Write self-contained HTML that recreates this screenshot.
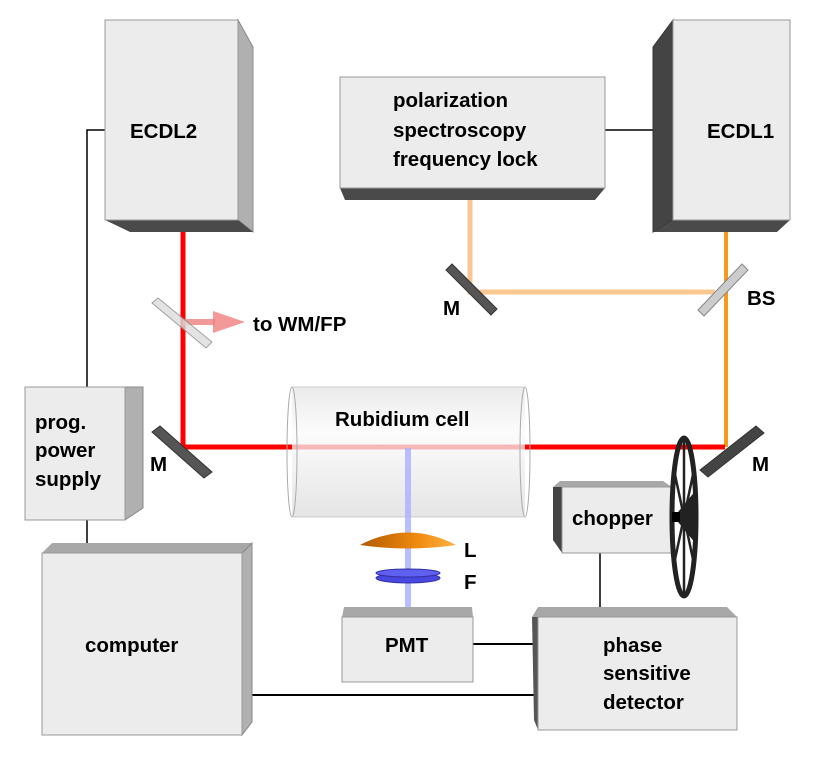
<!DOCTYPE html>
<html><head><meta charset="utf-8"><style>
body{margin:0;background:#fff}
text{font-family:"Liberation Sans",Arial,sans-serif;font-weight:bold;font-size:20.5px;fill:#000}
</style></head><body>
<svg width="830" height="760" viewBox="0 0 830 760" xmlns="http://www.w3.org/2000/svg">
<defs>
<linearGradient id="cell" x1="0" y1="0" x2="0" y2="1">
<stop offset="0" stop-color="#e4e4e4"/><stop offset="0.35" stop-color="#fbfbfb"/><stop offset="1" stop-color="#dcdcdc"/></linearGradient>
<linearGradient id="lens" x1="0" y1="0" x2="1" y2="0">
<stop offset="0" stop-color="#b05a00"/><stop offset="0.6" stop-color="#f08a10"/><stop offset="1" stop-color="#ffb040"/></linearGradient>
</defs>
<g stroke="#000" stroke-width="1.5" fill="none">
<polyline points="105,130 87,130 87,387"/>
<line x1="87" y1="520" x2="87" y2="553"/>
<line x1="605" y1="130" x2="662" y2="130"/>
<line x1="600" y1="553" x2="600" y2="610"/>
<line x1="473" y1="644" x2="535" y2="644" stroke-width="2"/>
<line x1="248" y1="695" x2="535" y2="695" stroke-width="2"/>
</g>
<!-- ECDL2 -->
<polygon points="238,20 253,47 253,232 238,220" fill="#b0b0b0" stroke="#888"/>
<polygon points="105,220 238,220 253,232 130,232" fill="#4a4a4a"/>
<rect x="105" y="20" width="133" height="200" fill="#ececec" stroke="#999"/>
<text x="130" y="138">ECDL2</text>
<!-- ECDL1 -->
<polygon points="673,20 653,47 653,232 673,220" fill="#444" stroke="#333"/>
<polygon points="673,220 790,220 777,232 653,232" fill="#4a4a4a"/>
<rect x="673" y="20" width="117" height="200" fill="#ececec" stroke="#999"/>
<text x="707" y="138">ECDL1</text>
<!-- pol box -->
<polygon points="340,188 605,188 595,200 345,200" fill="#4a4a4a"/>
<rect x="340" y="77" width="265" height="111" fill="#ececec" stroke="#999"/>
<text x="393" y="107">polarization</text>
<text x="393" y="137">spectroscopy</text>
<text x="393" y="166">frequency lock</text>
<!-- light orange beam -->
<polyline points="470,200 470,292 715,292" fill="none" stroke="#f8c890" stroke-width="5"/>
<!-- orange beam -->
<line x1="726" y1="232" x2="726" y2="447" stroke="#f59a1a" stroke-width="4"/>
<!-- red beam -->
<polyline points="183,232 183,447 725,447" fill="none" stroke="#f00" stroke-width="5"/>
<!-- to WM/FP arrow -->
<line x1="183" y1="322" x2="215" y2="322" stroke="#f08080" stroke-width="6" opacity="0.8"/>
<polygon points="213,311 245,322 213,333" fill="#f08080" opacity="0.8"/>
<text x="253" y="331">to WM/FP</text>
<!-- BS near ECDL2 -->
<polygon points="152,303 158,298 212,342 206,348" fill="#ddd" stroke="#888" opacity="0.8"/>
<!-- M top -->
<polygon points="446,270 452,264 497,309 491,315" fill="#555" stroke="#333"/>
<text x="443" y="315">M</text>
<!-- BS right -->
<polygon points="698,310 704,316 748,270 742,264" fill="#ccc" stroke="#888"/>
<text x="747" y="305">BS</text>
<!-- M left -->
<polygon points="152,432 160,426 212,472 204,478" fill="#555" stroke="#333"/>
<text x="150" y="471">M</text>
<!-- M right -->
<polygon points="700,470 708,477 764,433 756,426" fill="#444" stroke="#333"/>
<text x="752" y="471">M</text>
<!-- cell -->
<rect x="292" y="387" width="233" height="130" fill="url(#cell)" opacity="0.75"/>
<ellipse cx="292" cy="452" rx="5" ry="65" fill="none" stroke="#aaa"/>
<ellipse cx="525" cy="452" rx="5" ry="65" fill="none" stroke="#aaa"/>
<line x1="292" y1="387" x2="525" y2="387" stroke="#ccc"/>
<line x1="292" y1="517" x2="525" y2="517" stroke="#ccc"/>
<text x="335" y="426">Rubidium cell</text>
<!-- blue beam -->
<line x1="408" y1="448" x2="408" y2="612" stroke="#aab0ff" stroke-width="6" opacity="0.8"/>
<path d="M360,545 Q408,520 456,545 Q408,552 360,545 Z" fill="url(#lens)"/>
<text x="464" y="557">L</text>
<ellipse cx="408" cy="578" rx="32" ry="5" fill="#4848e0" stroke="#3030a0"/>
<ellipse cx="408" cy="573" rx="32" ry="4" fill="#6060f0" stroke="#3030a0"/>
<text x="464" y="589">F</text>
<!-- prog power -->
<polygon points="125,387 143,387 143,508 125,520" fill="#b0b0b0" stroke="#888"/>
<rect x="25" y="387" width="100" height="133" fill="#ececec" stroke="#999"/>
<text x="35" y="429">prog.</text>
<text x="35" y="457">power</text>
<text x="35" y="486">supply</text>
<!-- computer -->
<polygon points="52,543 252,543 242,553 42,553" fill="#a8a8a8"/>
<polygon points="242,553 252,543 252,722 242,735" fill="#b0b0b0" stroke="#888"/>
<rect x="42" y="553" width="200" height="182" fill="#ececec" stroke="#999"/>
<text x="85" y="652">computer</text>
<!-- PMT -->
<polygon points="344,607 472,607 473,617 342,617" fill="#a8a8a8"/>
<rect x="342" y="617" width="131" height="65" fill="#ececec" stroke="#999"/>
<text x="385" y="652">PMT</text>
<!-- phase -->
<polygon points="538,607 727,607 737,617 532,617" fill="#a8a8a8"/>
<polygon points="532,617 538,617 538,730 534,720" fill="#555"/>
<rect x="538" y="617" width="199" height="113" fill="#ececec" stroke="#999"/>
<text x="603" y="652">phase</text>
<text x="603" y="680">sensitive</text>
<text x="603" y="709">detector</text>
<!-- chopper -->
<polygon points="560,481 663,481 672,487 553,487" fill="#a8a8a8"/>
<polygon points="553,487 562,487 562,553 553,540" fill="#444"/>
<rect x="562" y="487" width="110" height="66" fill="#ececec" stroke="#999"/>
<text x="572" y="525">chopper</text>
<!-- wheel -->
<ellipse cx="684" cy="517" rx="12" ry="79" fill="none" stroke="#222" stroke-width="5"/>
<g stroke="#222" stroke-width="2.5">
<line x1="684" y1="440" x2="684" y2="594"/>
<line x1="674" y1="470" x2="694" y2="564"/>
<line x1="694" y1="470" x2="674" y2="564"/>
</g>
<polygon points="674,517 696,490 696,544" fill="#222"/>
<rect x="672" y="512" width="8" height="10" fill="#000"/>
</svg>
</body></html>
